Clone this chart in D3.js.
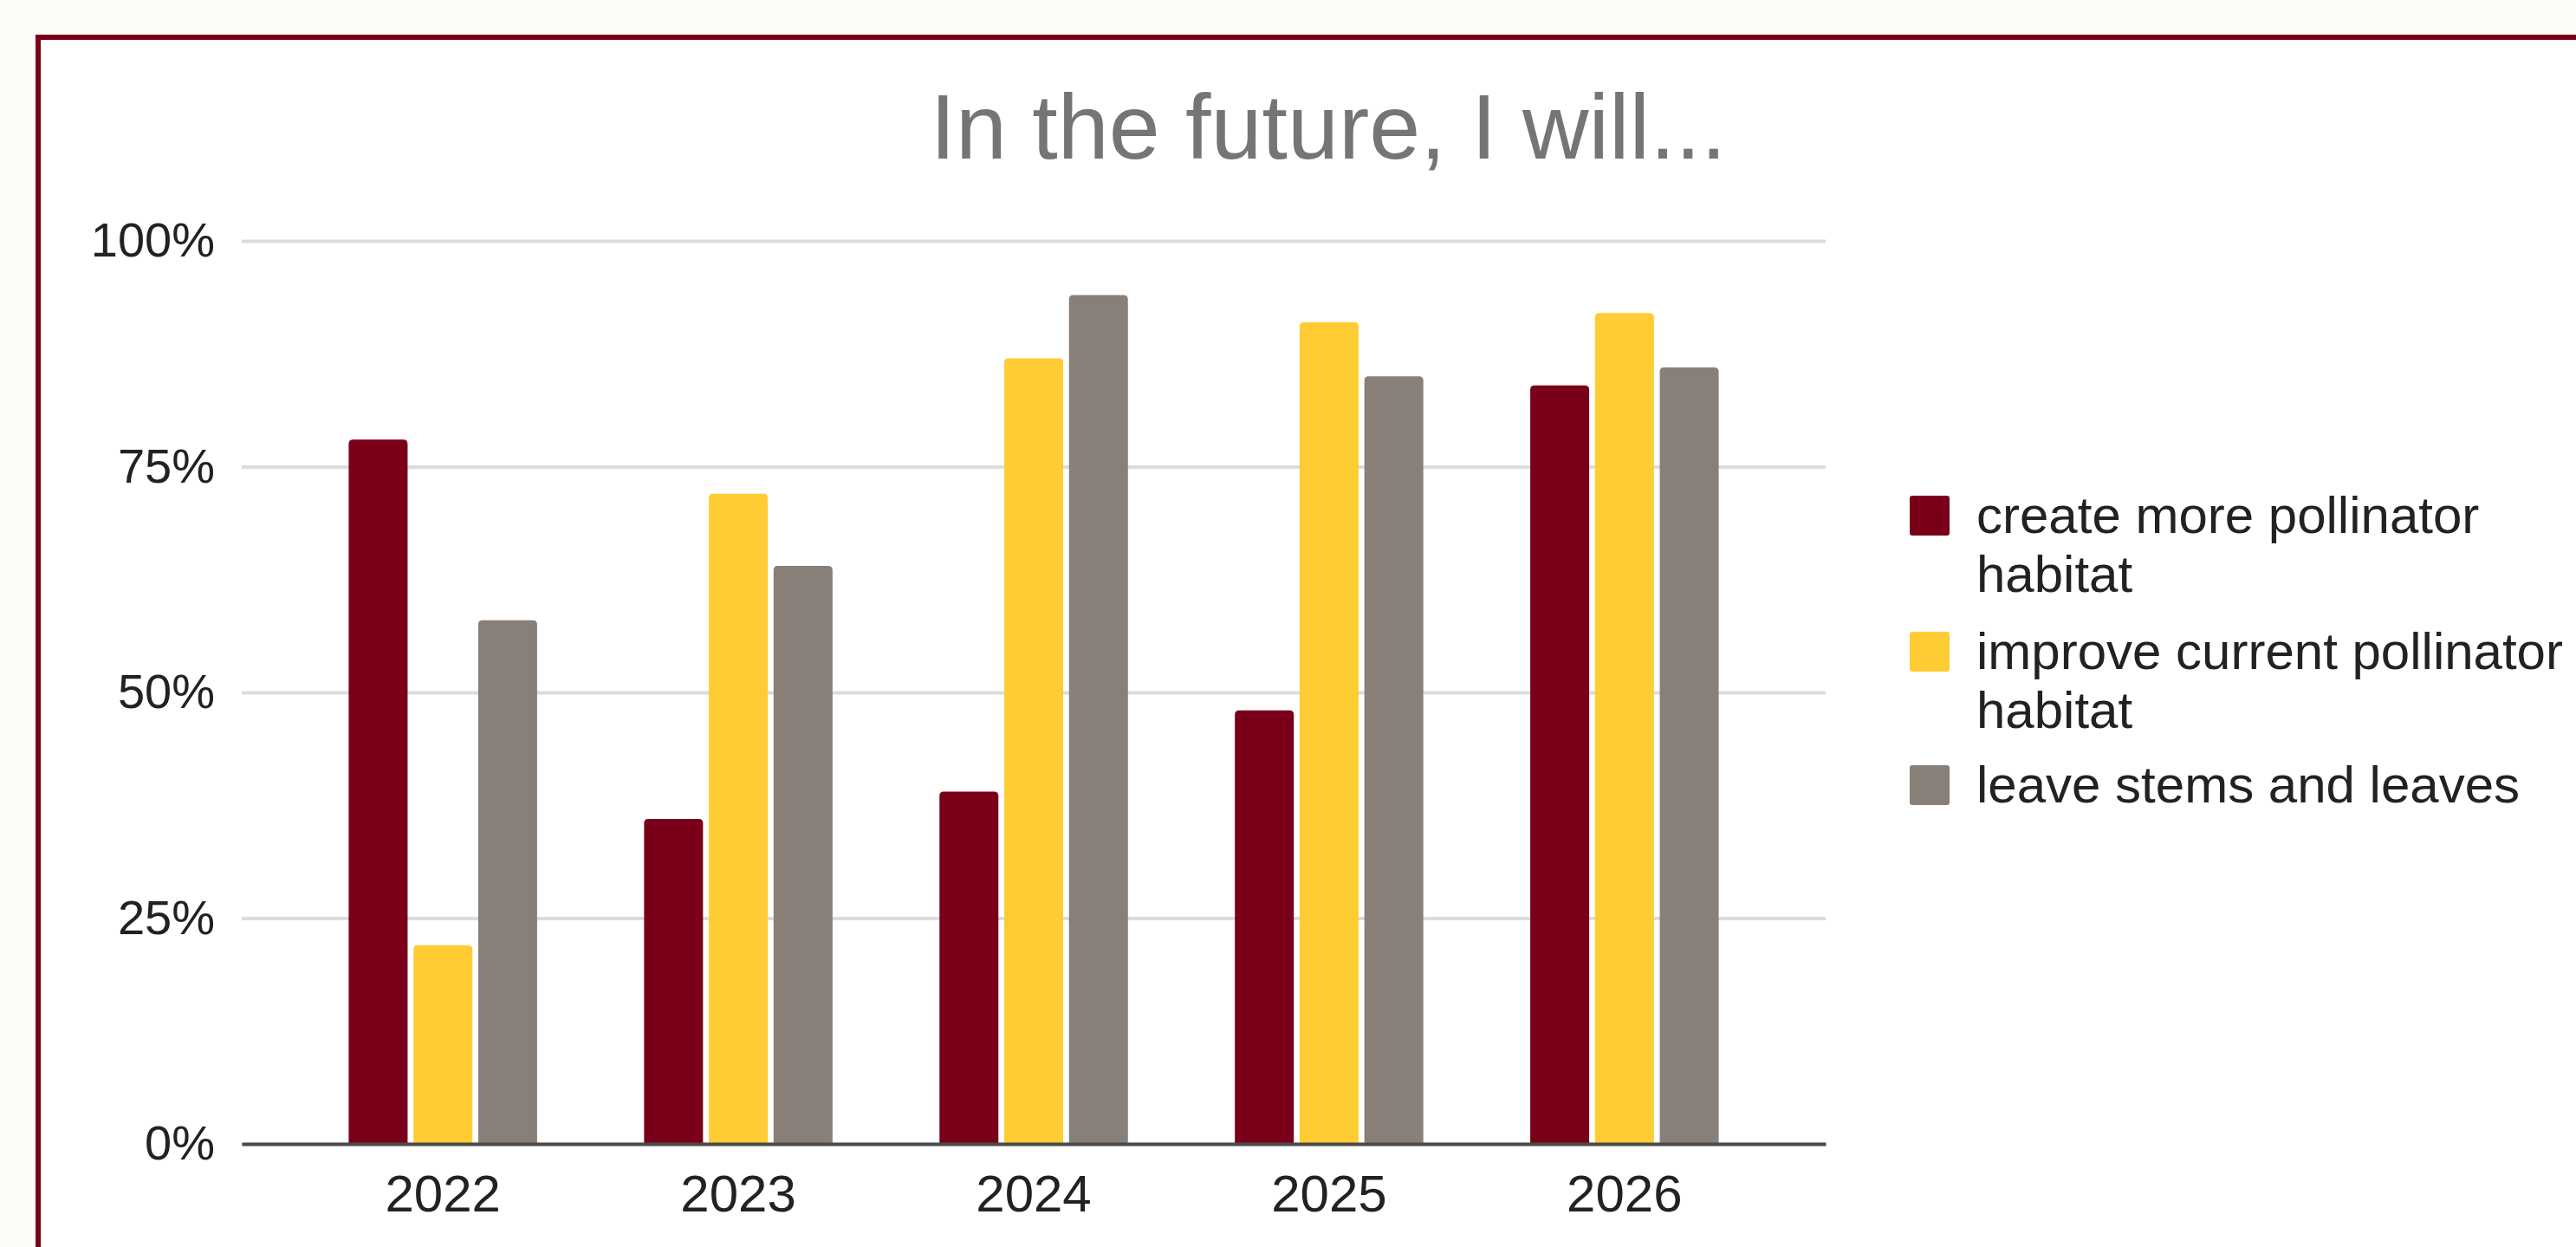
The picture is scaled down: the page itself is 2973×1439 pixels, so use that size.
<!DOCTYPE html>
<html>
<head>
<meta charset="utf-8">
<script src="https://cdn.jsdelivr.net/npm/d3@7"></script>
<style>
	body { margin:0; background:#fefcf8; }
	svg  { display:block; font-family:"Liberation Sans", Arial, sans-serif; }
</style>
</head>
<body>
<script>
//=======================================================================
// chart values
var aryYears     = ["2022", "2023", "2024", "2025", "2026"];
var arySeries    = ["create more pollinator habitat",
                    "improve current pollinator habitat",
                    "leave stems and leaves"];
var aryCreate    = [0.78, 0.36, 0.39, 0.48, 0.84];
var aryImprove   = [0.22, 0.72, 0.87, 0.91, 0.92];
var aryLeave     = [0.58, 0.64, 0.94, 0.85, 0.86];
var aryTicks     = [0, 0.25, 0.5, 0.75, 1];
var aryTickLabels= ["0%", "25%", "50%", "75%", "100%"];
var v_Title      = "In the future, I will...";

var aryColors    = ["#7a0019", "#ffcc33", "#887f79"];
//----------------------------------------------------------------------
var W = 2973, H = 1439;
var plot = {left:279, right:2107, top:278, bottom:1320};

var v_Canvas = d3.select("body")
					.append("svg")
					.attr("width", W)
					.attr("height", H);

// maroon frame, runs off the right and bottom edges
v_Canvas.append("rect")
			.attr("x", 44).attr("y", 43)
			.attr("width", 3000).attr("height", 1500)
			.attr("fill", "#ffffff")
			.attr("stroke", "#7a0019")
			.attr("stroke-width", 6);

f_Draw();
//----------------------------------------------------------------------
function f_barPath(x, y, w, h, r) //bar with rounded top corners
{
	r = Math.min(r, h);
	return "M" + x + "," + (y + h) +
		   "V" + (y + r) +
		   "Q" + x + "," + y + " " + (x + r) + "," + y +
		   "H" + (x + w - r) +
		   "Q" + (x + w) + "," + y + " " + (x + w) + "," + (y + r) +
		   "V" + (y + h) + "Z";
}
//----------------------------------------------------------------------
function f_Draw()
{
	var aryValues = [aryCreate, aryImprove, aryLeave];

	var x0 = d3.scaleBand()
				.domain(aryYears)
				.range([plot.left, plot.right])
				.padding(0.362);

	var x1 = d3.scaleBand()
				.domain(d3.range(arySeries.length))
				.range([0, x0.bandwidth()])
				.paddingInner(0.09);

	var y = d3.scaleLinear()
				.domain([0, 1])
				.range([plot.bottom, plot.top]);

	// title
	v_Canvas.append("text")
				.attr("x", 1533)
				.attr("y", 183)
				.attr("text-anchor", "middle")
				.attr("fill", "#757575")
				.attr("font-size", 106)
				.text(v_Title);

	// y axis + gridlines
	var gY = v_Canvas.append("g")
				.attr("transform", "translate(" + plot.left + ",0)")
				.call(d3.axisLeft(y)
						.tickValues(aryTicks)
						.tickFormat(function(d,i){return aryTickLabels[i];})
						.tickSize(-(plot.right - plot.left))
						.tickPadding(31));
	gY.select(".domain").remove();
	gY.selectAll(".tick line")
		.attr("stroke", "#dcdcdc")
		.attr("stroke-width", 4);
	gY.selectAll(".tick text")
		.attr("fill", "#222")
		.attr("font-size", 56)
		.attr("font-family", "Liberation Sans, Arial, sans-serif");

	// bars
	var gGroups = v_Canvas.selectAll("g.year")
				.data(aryYears)
				.enter()
					.append("g")
					.attr("class", "year")
					.attr("transform", function(d){return "translate(" + x0(d) + ",0)";});

	gGroups.selectAll("path")
			.data(function(d, i){
				return aryValues.map(function(s, k){return {k:k, v:s[i]};});
			})
			.enter()
				.append("path")
				.attr("fill", function(d){return aryColors[d.k];})
				.attr("d", function(d){
					return f_barPath(x1(d.k), y(d.v), x1.bandwidth(), y(0) - y(d.v), 5);
				});

	// x axis
	var gX = v_Canvas.append("g")
				.attr("transform", "translate(0," + plot.bottom + ")")
				.call(d3.axisBottom(x0)
						.tickSize(0)
						.tickSizeOuter(0)
						.tickPadding(35));
	gX.select(".domain")
		.attr("stroke", "#4a4a4a")
		.attr("stroke-width", 4);
	gX.selectAll(".tick text")
		.attr("fill", "#222")
		.attr("font-size", 60)
		.attr("font-family", "Liberation Sans, Arial, sans-serif");

	f_Legend();
}
//----------------------------------------------------------------------
function f_Legend()
{
	var v_x = 2204, v_baseY = 615, v_lineH = 68, v_maxW = 690;
	var aryRowY = [615, 772, 926]; //first-line baselines of the entries

	for (var s = 0; s < arySeries.length; s++)
	{
		v_baseY = aryRowY[s];
		var t = v_Canvas.append("text")
					.attr("x", v_x + 77)
					.attr("y", v_baseY)
					.attr("fill", "#222")
					.attr("font-size", 60);

		// wrap the label word by word
		var aryWords = arySeries[s].split(" ");
		var line = [];
		var tspan = t.append("tspan").attr("x", v_x + 77).attr("dy", 0);
		for (var w = 0; w < aryWords.length; w++)
		{
			line.push(aryWords[w]);
			tspan.text(line.join(" "));
			if (tspan.node().getComputedTextLength() > v_maxW && line.length > 1)
			{
				line.pop();
				tspan.text(line.join(" "));
				line = [aryWords[w]];
				tspan = t.append("tspan")
							.attr("x", v_x + 77)
							.attr("dy", v_lineH)
							.text(aryWords[w]);
			}
		}

		v_Canvas.append("rect")
					.attr("x", v_x)
					.attr("y", v_baseY - 43)
					.attr("width", 46)
					.attr("height", 46)
					.attr("rx", 3)
					.attr("fill", aryColors[s]);
	}
}
//======================================================================
</script>
</body>
</html>
